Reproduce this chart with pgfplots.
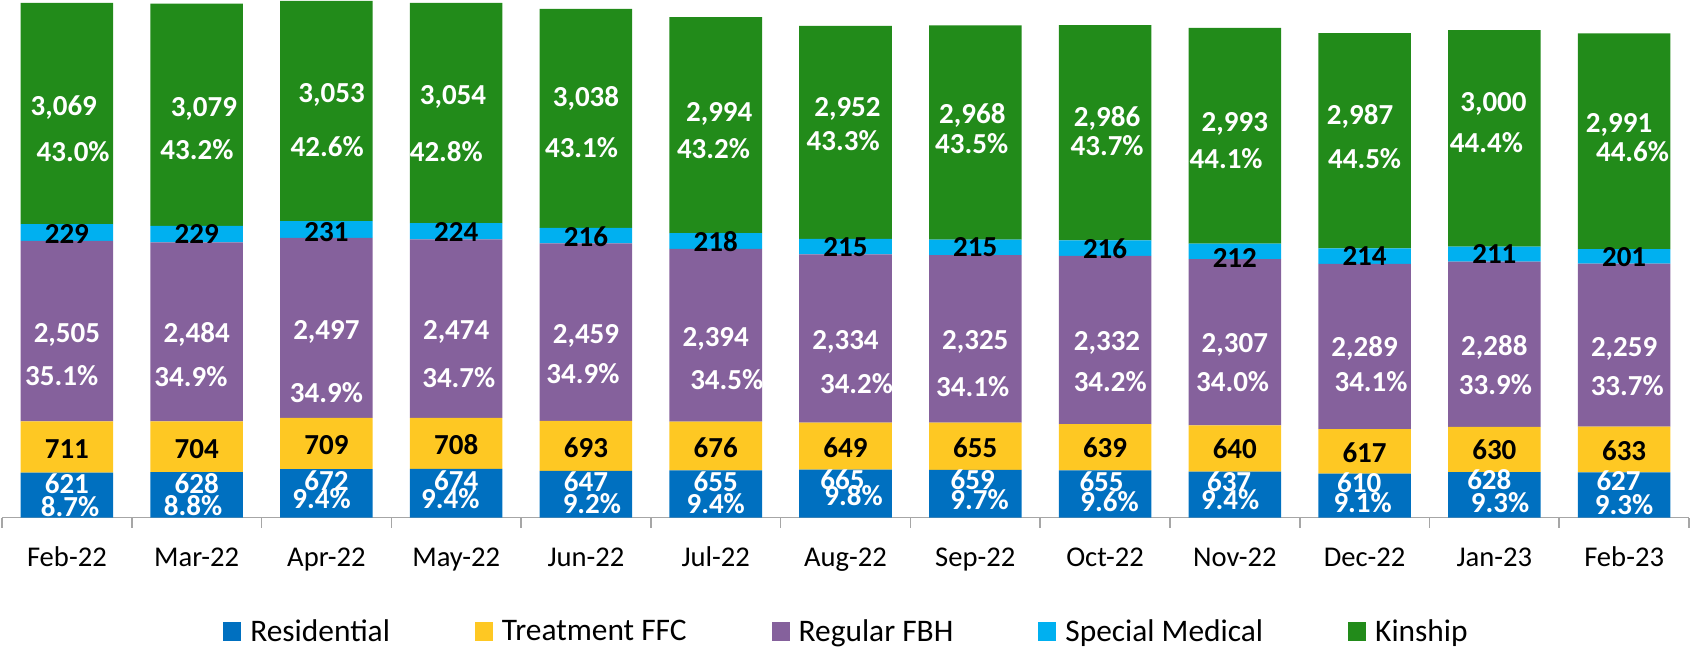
\documentclass[border=0pt]{standalone}
\usepackage{pgfplots}
\pgfplotsset{compat=1.18}
\usepackage{fontspec}
\setmainfont{Carlito}
\definecolor{cRes}{RGB}{0,112,192}
\definecolor{cTre}{RGB}{254,200,35}
\definecolor{cReg}{RGB}{133,97,156}
\definecolor{cSpe}{RGB}{0,176,240}
\definecolor{cKin}{RGB}{34,139,26}
\tikzset{lbl/.style={font=\fontsize{14.5}{14.5}\selectfont\bfseries, inner sep=0pt, anchor=base, yshift=-4.6pt}}
\newcommand{\lab}[4]{\node[lbl,text=#4] at (axis cs:#1,#2) {#3};}
\begin{document}
\begin{tikzpicture}
\begin{axis}[
  at={(0,0)}, anchor=south west, scale only axis,
  width=843.5pt, height=258.75pt,
  ybar stacked, bar width=0.713,
  xmin=-0.5, xmax=12.5, ymin=0, ymax=7175,
  axis x line*=bottom, axis y line=none, ytick=\empty,
  xtick={0,...,12},
  xticklabels={Feb-22,Mar-22,Apr-22,May-22,Jun-22,Jul-22,Aug-22,Sep-22,Oct-22,Nov-22,Dec-22,Jan-23,Feb-23},
  major tick length=0pt,
  minor xtick={-0.5,0.5,...,12.5}, minor tick length=5pt, tick align=outside,
  tick style={draw=gray!70, line width=0.8pt},
  x axis line style={draw=gray!70, line width=0.8pt},
  xticklabel style={font=\fontsize{14.3}{14.3}\selectfont, anchor=base, yshift=-24.25pt},
  legend columns=5,
  legend cell align=left,
  legend image code/.code={\fill[#1] (0pt,-4.2pt) rectangle (9pt,5.1pt);},
  legend style={draw=none, fill=none, at={(0.5,0)}, anchor=north, yshift=-51pt,
    inner sep=0pt, font=\fontsize{15.7}{15.7}\selectfont, nodes={inner sep=0pt},
    /tikz/every odd column/.append style={column sep=4.5pt},
    /tikz/every even column/.append style={column sep=42.5pt}},
  clip=false,
]
\addplot[fill=cRes, draw=none] coordinates {(0,621) (1,628) (2,672) (3,674) (4,647) (5,655) (6,665) (7,659) (8,655) (9,637) (10,610) (11,628) (12,627)};
\addplot[fill=cTre, draw=none] coordinates {(0,711) (1,704) (2,709) (3,708) (4,693) (5,676) (6,649) (7,655) (8,639) (9,640) (10,617) (11,630) (12,633)};
\addplot[fill=cReg, draw=none] coordinates {(0,2505) (1,2484) (2,2497) (3,2474) (4,2459) (5,2394) (6,2334) (7,2325) (8,2332) (9,2307) (10,2289) (11,2288) (12,2259)};
\addplot[fill=cSpe, draw=none] coordinates {(0,229) (1,229) (2,231) (3,224) (4,216) (5,218) (6,215) (7,215) (8,216) (9,212) (10,214) (11,211) (12,201)};
\addplot[fill=cKin, draw=none] coordinates {(0,3069) (1,3079) (2,3053) (3,3054) (4,3038) (5,2994) (6,2952) (7,2968) (8,2986) (9,2993) (10,2987) (11,3000) (12,2991)};
\legend{Residential,Treatment FFC,Regular FBH,Special Medical,Kinship}
\end{axis}
\begin{axis}[
  at={(0,0)}, anchor=south west, scale only axis,
  width=843.5pt, height=258.75pt,
  xmin=-0.5, xmax=12.5, ymin=0, ymax=7175,
  hide axis, clip=false,
]
% Kinship values
\lab{-0.024}{5700}{3,069}{white}
\lab{1.056}{5684}{3,079}{white}
\lab{2.04}{5886}{3,053}{white}
\lab{2.975}{5855}{3,054}{white}
\lab{4.0}{5830}{3,038}{white}
\lab{5.027}{5614}{2,994}{white}
\lab{6.015}{5692}{2,952}{white}
\lab{6.977}{5595}{2,968}{white}
\lab{8.016}{5553}{2,986}{white}
\lab{9.0}{5484}{2,993}{white}
\lab{9.965}{5573}{2,987}{white}
\lab{10.993}{5756}{3,000}{white}
\lab{11.961}{5464}{2,991}{white}
% Kinship shares
\lab{0.048}{5064}{43.0\%}{white}
\lab{1.002}{5093}{43.2\%}{white}
\lab{2.006}{5126}{42.6\%}{white}
\lab{2.924}{5069}{42.8\%}{white}
\lab{3.966}{5123}{43.1\%}{white}
\lab{4.983}{5109}{43.2\%}{white}
\lab{5.982}{5220}{43.3\%}{white}
\lab{6.972}{5179}{43.5\%}{white}
\lab{8.016}{5151}{43.7\%}{white}
\lab{8.933}{4971}{44.1\%}{white}
\lab{10.0}{4962}{44.5\%}{white}
\lab{10.939}{5183}{44.4\%}{white}
\lab{12.065}{5057}{44.6\%}{white}
% Special Medical
\lab{0}{3932}{229}{black}
\lab{1}{3921}{229}{black}
\lab{2}{3961}{231}{black}
\lab{3}{3950}{224}{black}
\lab{4}{3889}{216}{black}
\lab{5}{3820}{218}{black}
\lab{6}{3744}{215}{black}
\lab{7}{3744}{215}{black}
\lab{8}{3716}{216}{black}
\lab{9}{3590}{212}{black}
\lab{10}{3626}{214}{black}
\lab{11}{3654}{211}{black}
\lab{12}{3604}{201}{black}
% Regular FBH values
\lab{0}{2555}{2,505}{white}
\lab{1}{2555}{2,484}{white}
\lab{2}{2600}{2,497}{white}
\lab{3}{2600}{2,474}{white}
\lab{4}{2544}{2,459}{white}
\lab{5}{2503}{2,394}{white}
\lab{6}{2461}{2,334}{white}
\lab{7}{2461}{2,325}{white}
\lab{8.015}{2440}{2,332}{white}
\lab{9}{2420}{2,307}{white}
\lab{10}{2357}{2,289}{white}
\lab{11}{2371}{2,288}{white}
\lab{12}{2357}{2,259}{white}
% Regular FBH shares
\lab{-0.04}{1952}{35.1\%}{white}
\lab{0.956}{1941}{34.9\%}{white}
\lab{2}{1723}{34.9\%}{white}
\lab{3.02}{1924}{34.7\%}{white}
\lab{3.977}{1990}{34.9\%}{white}
\lab{5.085}{1906}{34.5\%}{white}
\lab{6.085}{1851}{34.2\%}{white}
\lab{6.98}{1809}{34.1\%}{white}
\lab{8.04}{1879}{34.2\%}{white}
\lab{8.983}{1879}{34.0\%}{white}
\lab{10.05}{1879}{34.1\%}{white}
\lab{11.008}{1837}{33.9\%}{white}
\lab{12.024}{1823}{33.7\%}{white}
% Treatment FFC
\lab{0}{950}{711}{black}
\lab{1}{950}{704}{black}
\lab{2}{1005}{709}{black}
\lab{3}{1005}{708}{black}
\lab{4}{963}{693}{black}
\lab{5}{963}{676}{black}
\lab{6}{963}{649}{black}
\lab{7}{963}{655}{black}
\lab{8}{963}{639}{black}
\lab{9}{941}{640}{black}
\lab{10}{894}{617}{black}
\lab{11}{928}{630}{black}
\lab{12}{922}{633}{black}
% Residential values
\lab{0}{460}{621}{white}
\lab{1}{464}{628}{white}
\lab{2}{506}{672}{white}
\lab{3}{506}{674}{white}
\lab{4}{492}{647}{white}
\lab{5}{492}{655}{white}
\lab{5.977}{520}{665}{white}
\lab{6.98}{520}{659}{white}
\lab{7.973}{492}{655}{white}
\lab{8.956}{492}{637}{white}
\lab{9.959}{473}{610}{white}
\lab{10.961}{510}{628}{white}
\lab{11.957}{496}{627}{white}
% Residential shares
\lab{0.024}{145}{8.7\%}{white}
\lab{0.972}{162}{8.8\%}{white}
\lab{1.962}{259}{9.4\%}{white}
\lab{2.955}{259}{9.4\%}{white}
\lab{4.046}{187}{9.2\%}{white}
\lab{5}{187}{9.4\%}{white}
\lab{6.062}{298}{9.8\%}{white}
\lab{7.033}{242}{9.7\%}{white}
\lab{8.035}{215}{9.6\%}{white}
\lab{8.964}{242}{9.4\%}{white}
\lab{9.985}{191}{9.1\%}{white}
\lab{11.044}{191}{9.3\%}{white}
\lab{12}{168}{9.3\%}{white}
\end{axis}
\pgfresetboundingbox
\path[use as bounding box] (-1pt,-65.75pt) rectangle (844.5pt,258.75pt);
\end{tikzpicture}
\end{document}
